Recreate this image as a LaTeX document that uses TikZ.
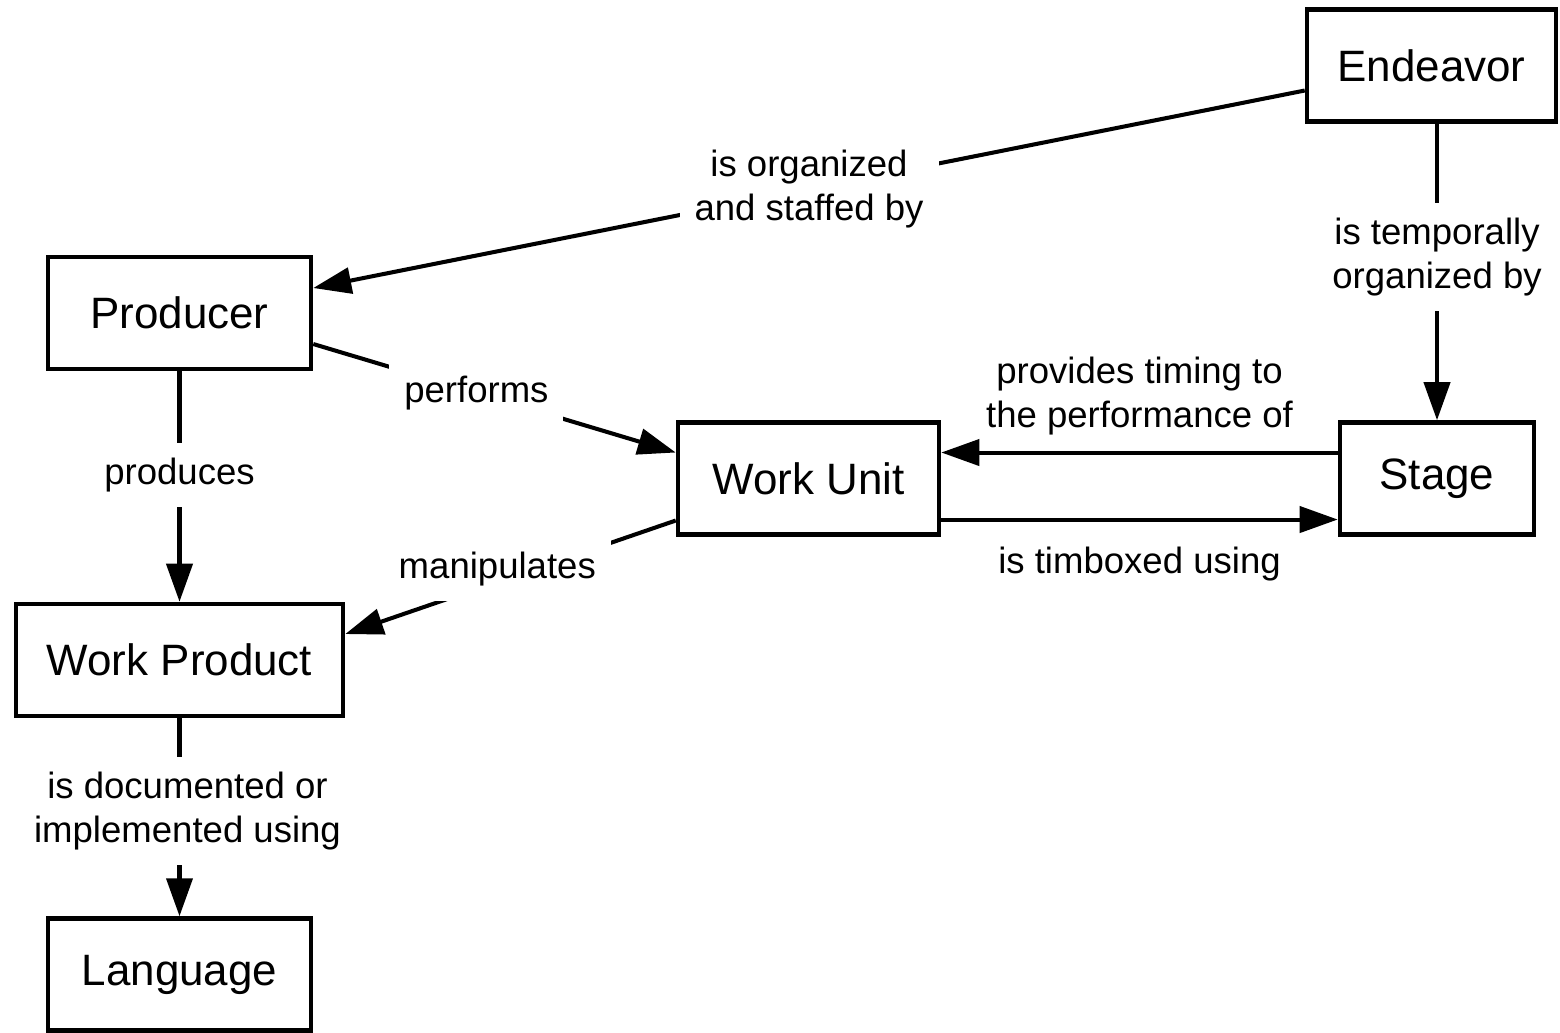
\documentclass[tikz,border=0pt]{standalone}
\usepackage{fontspec}
\setmainfont{Liberation Sans}
\usetikzlibrary{arrows.meta}

\tikzset{
	box/.style={draw,line width=1.3pt,minimum height=1.12cm,inner sep=0pt,
		font=\fontsize{12.5}{15}\selectfont},
	lab/.style={fill=white,align=center,inner sep=0.15cm,
		font=\fontsize{10.4}{12.5}\selectfont},
	side/.style={align=center,inner sep=2pt,font=\fontsize{10.4}{12.5}\selectfont}
}

\begin{document}
\begin{tikzpicture}
		\useasboundingbox (0,0) rectangle (15.6,-10.32);
		\node[box,minimum width=2.49cm] (E) at (14.315,-0.655) {Endeavor};
		\node[box,minimum width=2.63cm] (P) at (1.795,-3.13) {Producer};
		\node[box,minimum width=2.61cm] (WU) at (8.085,-4.785) {Work Unit};
		\node[box,minimum width=1.94cm] (S) at (14.37,-4.785) {Stage};
		\node[box,minimum width=3.27cm] (WP) at (1.795,-6.60) {Work Product};
		\node[box,minimum width=2.63cm] (L) at (1.795,-9.745) {Language};
		%
		\path[->,line width=1.15pt,>={Triangle[length=3.8mm,width=2.6mm]}]
			([yshift=-0.25cm]E.west) edge node[lab]{is organized\\and staffed by} ([yshift=0.25cm]P.east)
			(E.south -| S.north) edge node[lab,pos=0.45]{is temporally\\organized by} (S.north)
			([yshift=-0.31cm]P.east) edge node[lab,pos=0.45]{performs} ([yshift=0.26cm]WU.west)
			(P.south) edge node[lab,pos=0.45]{produces} (WP.north)
			([yshift=-0.42cm]WU.west) edge node[lab,pos=0.54,yshift=0.13cm]{manipulates} ([yshift=0.26cm]WP.east)
			([yshift=0.26cm]S.west) edge node[side,above=0.08cm]{provides timing to\\the performance of} ([yshift=0.26cm]WU.east)
			([yshift=-0.41cm]WU.east) edge node[side,below=0.18cm]{is timboxed using} ([yshift=-0.41cm]S.west)
			(WP.south) edge node[lab,pos=0.47,xshift=0.08cm]{is documented or\\implemented using} (L.north);
	\end{tikzpicture}
\end{document}
